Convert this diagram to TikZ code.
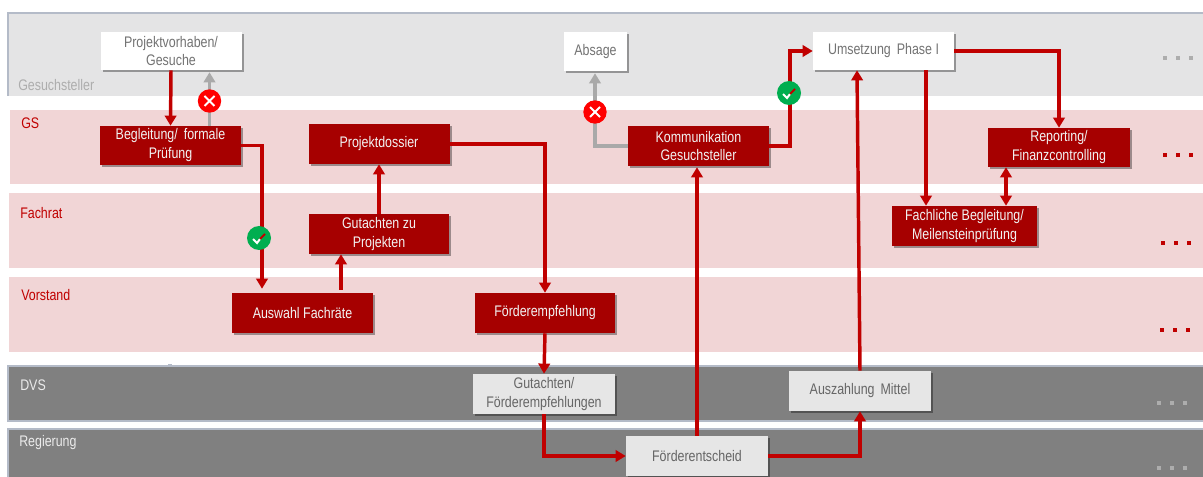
\documentclass[tikz,border=0pt]{standalone}
\usepackage{fontspec}
\setmainfont[FakeStretch=0.81]{Liberation Sans}
\usetikzlibrary{arrows.meta,shadows,calc}
\definecolor{boxred}{HTML}{A60000}
\definecolor{linered}{HTML}{C00000}
\definecolor{bandgrey}{HTML}{E4E4E5}
\definecolor{bandpink}{HTML}{F1D5D6}
\definecolor{banddark}{HTML}{808080}
\definecolor{bandedge}{HTML}{B4BBC8}
\definecolor{lightbox}{HTML}{E6E6E6}
\definecolor{arrowgrey}{HTML}{A9A9A9}
\definecolor{okgreen}{HTML}{00AE50}
\tikzset{
  x=0.75pt,y=-0.75pt,
  wh/.style 2 args={minimum width=#1*0.75pt,minimum height=#2*0.75pt},
  anybox/.style={rectangle,inner sep=0pt,align=center,font=\fontsize{11.5pt}{14.2pt}\selectfont,
     drop shadow={shadow xshift=1.6pt,shadow yshift=-1.6pt,fill=black,opacity=0.35}},
  redbox/.style={anybox,fill=boxred,text=white!95!black},
  whitebox/.style={anybox,fill=white,text=black!55},
  greybox/.style={anybox,fill=lightbox,text=black!60},
  lanetext/.style={inner sep=0pt,anchor=west,font=\fontsize{11.5pt}{13pt}\selectfont},
  flow/.style={draw=linered,line width=2.6pt,-{Triangle[width=8.6pt,length=7.6pt]}},
  both/.style={draw=linered,line width=2.6pt,{Triangle[width=8.6pt,length=7.6pt]}-{Triangle[width=8.6pt,length=7.6pt]}},
  reject/.style={draw=arrowgrey,line width=2.6pt,-{Triangle[width=8.6pt,length=7.6pt]}},
  nomark/.style={circle,fill=red,inner sep=0pt,minimum size=17.5pt},
  yesmark/.style={circle,fill=okgreen,inner sep=0pt,minimum size=18pt},
  dotmark/.style={inner sep=0pt,minimum size=3pt,fill=#1},
}
\newcommand{\crossat}[1]{\draw[white,line width=1.5pt] ($(#1)+(-5,-5)$) -- ($(#1)+(5,5)$) ($(#1)+(-5,5)$) -- ($(#1)+(5,-5)$);}
\newcommand{\tickat}[1]{\draw[white,line width=1.5pt] ($(#1)+(-6,1)$) -- ($(#1)+(-2,5)$) -- ($(#1)+(1,1)$);\draw[linered,line width=1.5pt] ($(#1)+(1,1)$) -- ($(#1)+(6,-4)$);}
\newcommand{\dotrow}[4]{%
  \node[dotmark=#4] (d#1a) at (#2,#3) {};
  \node[dotmark=#4] (d#1b) at (#2+13,#3) {};
  \node[dotmark=#4] (d#1c) at (#2+26,#3) {};}
\begin{document}
\begin{tikzpicture}
\useasboundingbox (0,0) rectangle (1203,477);
% lanes
\fill[bandgrey] (8,13) rectangle (1203,96);
\draw[bandedge,line width=0.8pt] (8,96) |- (1203,13);
\fill[bandpink] (10,110) rectangle (1203,184.5);
\fill[bandpink] (9,193.5) rectangle (1203,268);
\fill[bandpink] (9,277) rectangle (1203,352);
\filldraw[fill=banddark,draw=bandedge,line width=0.8pt] (8,366) rectangle (1210,421);
\filldraw[fill=banddark,draw=bandedge,line width=0.8pt] (8,429) rectangle (1210,485);
\draw[bandedge,line width=0.8pt] (168,365) -- (172,365);
% lane labels
\node[lanetext,text=black!32] (lgs) at (18,85) {Gesuchsteller};
\node[lanetext,text=linered] (lgst) at (21,123) {GS};
\node[lanetext,text=linered] (lfr) at (20,213) {Fachrat};
\node[lanetext,text=linered] (lvs) at (21,295) {Vorstand};
\node[lanetext,text=white!92!black] (ldv) at (20,385) {DVS};
\node[lanetext,text=white!92!black] (lrg) at (19,442.5) {Regierung};
% trailing dots
\dotrow{a}{1165}{58.5}{black!32}
\dotrow{b}{1165}{155}{linered}
\dotrow{c}{1163}{243}{linered}
\dotrow{d}{1162}{330}{linered}
\dotrow{e}{1159}{403}{black!32}
\dotrow{f}{1159}{468}{black!32}
% nodes
\node[whitebox,wh={141}{38}] (pv) at (171,51) {Projektvorhaben/\\Gesuche};
\node[redbox,wh={141}{39}] (bf) at (170.5,145.5) {Begleitung/\, formale\\Prüfung};
\node[redbox,wh={141}{40}] (pd) at (379,144) {Projektdossier};
\node[redbox,wh={140}{40}] (gp) at (379,234) {Gutachten zu\\Projekten};
\node[redbox,wh={141}{40}] (af) at (302.5,313) {Auswahl Fachräte};
\node[redbox,wh={140}{40}] (fe) at (545,313) {Förderempfehlung};
\node[greybox,wh={142}{40}] (gf) at (544,394) {Gutachten/\\Förderempfehlungen};
\node[greybox,wh={142}{40}] (am) at (860,391) {Auszahlung\, Mittel};
\node[greybox,wh={142}{40}] (fs) at (697,456) {Förderentscheid};
\node[whitebox,wh={63}{39}] (ab) at (595.5,51.5) {Absage};
\node[redbox,wh={141}{40}] (kg) at (698.5,146) {Kommunikation\\Gesuchsteller};
\node[whitebox,wh={141}{38}] (up) at (883.5,51) {Umsetzung\, Phase I};
\node[redbox,wh={142}{39}] (rf) at (1059,147.5) {Reporting/\\Finanzcontrolling};
\node[redbox,wh={145}{40}] (fb) at (964.5,226) {Fachliche Begleitung/\\Meilensteinprüfung};
% routing helpers
\coordinate (xa) at (209.5,0);
\coordinate (xb) at (262,0);
\coordinate (xc) at (341,0);
\coordinate (xd) at (595,0);
\coordinate (xe) at (790,0);
\coordinate (xf) at (926,0);
\coordinate (xg) at (1006,0);
\coordinate (xh) at (857,0);
% connectors
\draw[flow] (pv.south) -- (bf.north);
\draw[reject] (bf.north -| xa) -- ($(pv.south -| xa)+(0,2)$);
\draw[flow] (bf.east) -| ($(af.north -| xb)+(0,-4)$);
\draw[flow] ($(af.north -| xc)+(0,-3)$) -- (gp.south -| xc);
\draw[flow] (gp.north) -- (pd.south);
\draw[flow] (pd.east) -| (fe.north);
\draw[flow] (fe.south) -- (gf.north);
\draw[flow] (gf.south) |- (fs.west);
\draw[flow] (fs.north) -- ($(kg.south -| fs.north)+(0,1)$);
\draw[flow] (fs.east) -| (am.south);
\draw[flow] (am.north) -- (up.south -| xh);
\draw[reject] (kg.west) -| ($(ab.south -| xd)+(0,2)$);
\draw[flow] (kg.east) -| (xe |- up.west) -- (up.west);
\draw[flow] (up.east) -| (rf.north);
\draw[flow] (up.south -| xf) -- (fb.north -| xf);
\draw[both] (rf.south -| xg) -- (fb.north -| xg);
% decision marks
\node[nomark] (n1) at (209.5,101) {};
\crossat{n1}
\node[nomark] (n2) at (595,112) {};
\crossat{n2}
\node[yesmark] (y1) at (259,238) {};
\tickat{y1}
\node[yesmark] (y2) at (789,93) {};
\tickat{y2}
\end{tikzpicture}
\end{document}
